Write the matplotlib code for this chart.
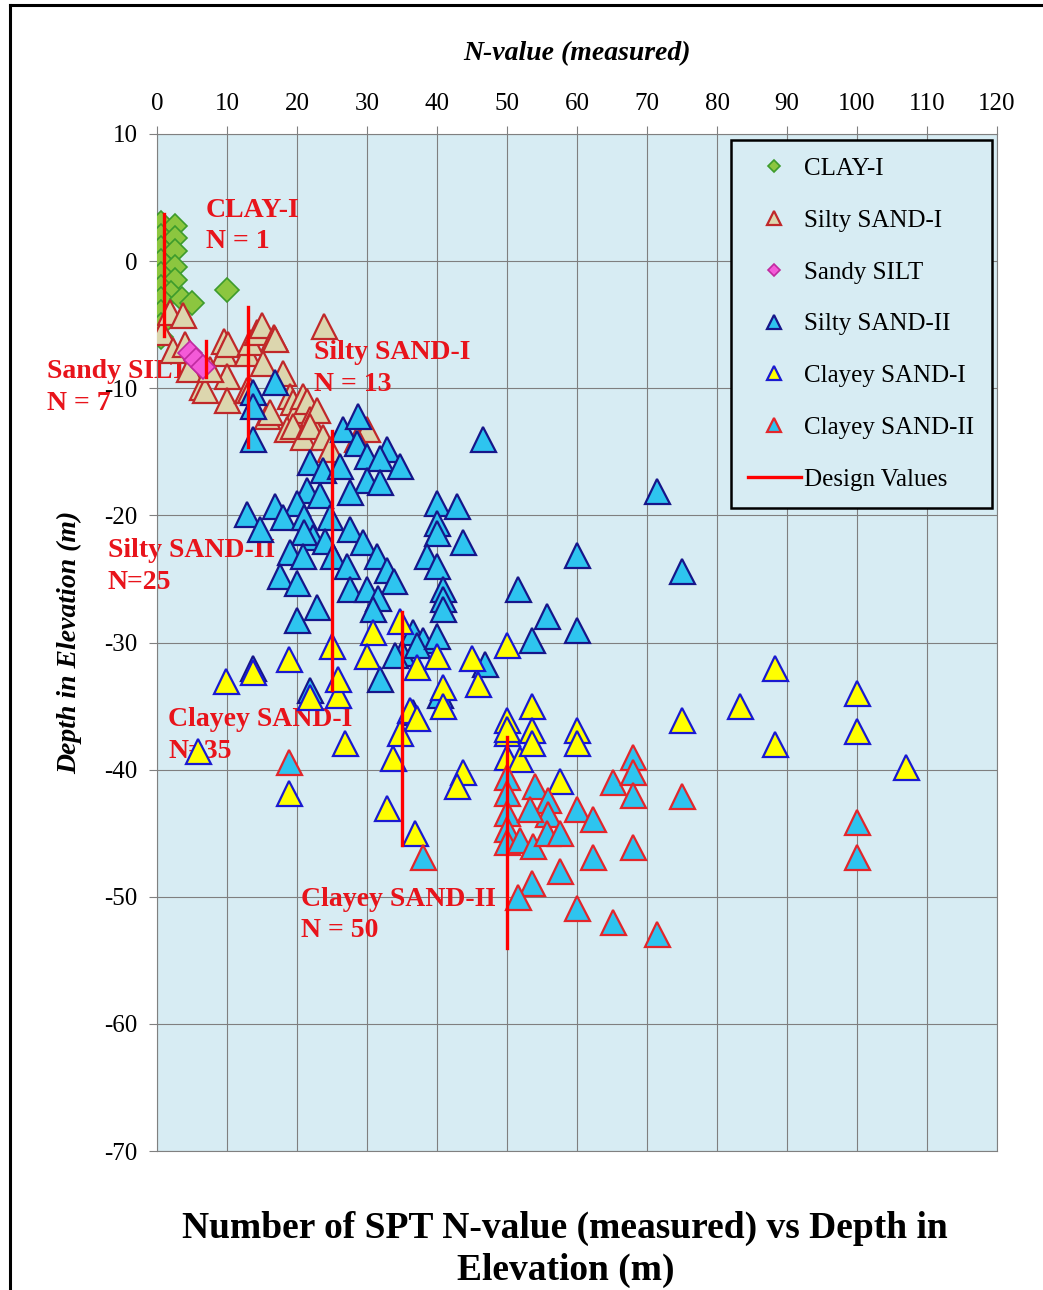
import matplotlib
matplotlib.use("Agg")
import matplotlib.pyplot as plt
from matplotlib.lines import Line2D

plt.rcParams["font.family"] = ["Liberation Serif", "DejaVu Serif"]
plt.rcParams["axes.unicode_minus"] = False

# ── Measured SPT N-values vs elevation (m), by soil layer ───────────────
clay1_n = [0.5, 2.5, 0.5, 2.5, 0.5, 2.5, 0.5, 2.5, 0.5, 2.5, 0.5, 2.0, 0.5, 3.5, 5.0, 10.0, 0.5, 0.5, 0.5]
clay1_e = [3.0, 2.8, 2.0, 1.8, 1.0, 0.8, 0.0, -0.5, -1.0, -1.5, -2.0, -2.5, -3.0, -3.0, -3.3, -2.3, -4.0, -5.0, -6.0]

ssand1_n = [0.7, 1.9, 3.7, 2.3, 4.5, 6.4, 6.9, 9.6, 9.6, 10.0, 10.0, 10.1, 12.9, 13.3, 14.3, 15.0,
            16.7, 16.9, 15.1, 12.9, 13.3, 15.7, 16.1, 18.0, 19.0, 19.4, 20.0, 20.9, 21.4, 21.9,
            22.8, 18.6, 19.4, 20.9, 21.9, 23.7, 24.7, 23.9, 30.0, 28.5, 7.5, 4.0]
ssand1_e = [-5.6, -4.0, -4.2, -7.0, -8.5, -9.9, -10.1, -6.3, -7.2, -9.0, -10.9, -6.5, -7.2, -6.4, -5.6, -5.0,
            -6.0, -6.1, -8.0, -10.1, -10.1, -12.2, -11.9, -8.8, -10.6, -11.1, -11.7, -10.6, -11.0, -12.4,
            -11.7, -13.2, -13.0, -13.8, -13.0, -13.8, -14.8, -5.1, -13.2, -14.0, -8.5, -6.5]

silt_n = [4.7, 5.6, 6.5]
silt_e = [-7.2, -7.8, -8.3]

ssand2_n = [13.7, 13.7, 13.7, 16.9, 26.6, 28.7, 28.6, 30.0, 32.9, 31.9, 34.7, 21.9, 23.7, 26.1, 30.0,
            31.9, 21.4, 23.3, 27.6, 12.9, 14.7, 16.9, 20.0, 18.0, 21.0, 24.7, 27.6, 22.3, 21.0, 24.0,
            29.4, 19.0, 20.9, 25.2, 27.1, 31.4, 32.9, 33.8, 17.6, 20.0, 27.6, 30.0, 31.5, 22.9, 30.9,
            20.0, 40.0, 42.9, 40.0, 40.0, 43.7, 38.6, 40.0, 40.9, 40.9, 40.9, 46.6, 36.6, 38.0, 35.0,
            37.1, 46.9, 40.4, 31.9, 13.7, 21.9, 51.6, 53.6, 55.7, 60.0, 60.0, 71.4, 75.0, 40.0, 34.0,
            36.5]
ssand2_e = [-14.0, -10.3, -11.4, -9.5, -13.2, -12.2, -14.3, -15.3, -14.8, -15.5, -16.1, -15.8, -16.4, -16.1, -17.2,
            -17.4, -18.0, -18.4, -18.2, -19.9, -21.1, -19.3, -19.0, -20.1, -20.1, -20.1, -21.1, -21.7, -21.3, -22.0,
            -22.1, -22.9, -23.2, -23.2, -24.0, -23.2, -24.3, -25.2, -24.8, -25.3, -25.8, -25.8, -26.5, -27.2, -27.4,
            -28.2, -19.0, -19.3, -20.6, -21.4, -22.1, -23.2, -24.0, -25.8, -26.6, -27.4, -14.0, -29.2, -29.8, -30.8,
            -30.2, -31.7, -34.1, -32.9, -32.0, -33.7, -25.8, -29.8, -27.9, -23.1, -29.0, -18.1, -24.4, -29.5, -31.0,
            -35.5]

csand1_n = [5.9, 9.9, 13.7, 18.9, 18.9, 21.9, 25.0, 25.9, 25.9, 26.9, 30.9, 30.0, 34.7, 37.1, 36.1, 37.1,
            34.7, 33.7, 32.9, 36.9, 40.0, 40.9, 40.9, 45.0, 45.9, 43.7, 42.9, 50.0, 50.0, 50.0, 50.0,
            51.9, 53.6, 53.6, 53.6, 60.0, 60.0, 57.6, 75.0, 88.3, 83.3, 88.3, 100.0, 100.0, 107.0, 50.0]
csand1_e = [-38.5, -33.0, -32.3, -31.3, -41.8, -34.3, -30.3, -34.1, -32.9, -37.9, -29.2, -31.1, -28.3, -31.9, -35.3, -35.9,
            -37.1, -39.1, -43.0, -45.0, -31.1, -33.5, -35.0, -31.2, -33.3, -40.2, -41.3, -30.2, -36.1, -37.1, -39.0,
            -39.2, -35.0, -36.9, -37.9, -36.9, -37.9, -40.9, -36.1, -32.0, -35.0, -38.0, -34.0, -37.0, -39.8, -36.8]

csand2_n = [18.9, 38.0, 50.0, 50.0, 50.0, 50.0, 50.0, 54.0, 55.9, 55.9, 53.3, 51.9, 53.7, 55.7, 57.6, 60.0,
            62.3, 65.1, 68.0, 68.0, 68.0, 75.0, 68.0, 62.3, 57.6, 53.6, 51.6, 60.0, 65.1, 71.4, 100.0, 100.0]
csand2_e = [-39.4, -46.9, -40.6, -41.8, -43.4, -44.7, -45.7, -41.3, -42.4, -43.5, -43.1, -45.5, -46.0, -45.0, -45.0, -43.1,
            -43.9, -41.0, -39.0, -40.2, -42.0, -42.1, -46.1, -46.9, -48.0, -48.9, -50.0, -50.9, -52.0, -52.9, -44.1, -46.9]

# design N-value per layer and the elevation range it covers
layers   = ["CLAY-I", "Sandy SILT", "Silty SAND-I", "Silty SAND-II", "Clayey SAND-I", "Clayey SAND-II"]
design_n = [1, 7, 13, 25, 35, 50]
design_top = [3.7, -6.3, -3.6, -13.4, -27.6, -37.4]
design_bot = [-5.9, -9.1, -14.6, -33.7, -45.9, -54.0]

x_ticks = list(range(0, 121, 10))
y_ticks = list(range(-70, 11, 10))

# ── Figure ──────────────────────────────────────────────────────────────
fig = plt.figure(figsize=(10.43, 12.9), dpi=100, facecolor="white")
ax = fig.add_axes([157 / 1043, 1 - 1151 / 1290, 840 / 1043, 1017 / 1290])
ax.set_facecolor("#d7ecf3")

ax.set_xlim(0, 120)
ax.set_ylim(-70, 10)
ax.set_xticks(x_ticks)
ax.set_yticks(y_ticks)
ax.xaxis.tick_top()
ax.xaxis.set_label_position("top")
ax.tick_params(axis="both", direction="out", length=6, color="#808080", labelsize=18, pad=8)
ax.grid(True, color="#7f7f7f", linewidth=0.8)
ax.set_axisbelow(True)
for sp in ax.spines.values():
    sp.set_color("#808080")
    sp.set_linewidth(0.8)

ax.set_xlabel("N-value (measured)", fontsize=20, fontweight="bold", fontstyle="italic", labelpad=23)
ax.set_ylabel("Depth in Elevation (m)", fontsize=20, fontweight="bold", fontstyle="italic", labelpad=16)

ms_tri = 18
ax.plot(clay1_n, clay1_e, "D", ms=12, mfc="#8cc63f", mec="#3d9b2c", mew=1.2, ls="none",
        label="CLAY-I", zorder=3)
ax.plot(ssand1_n, ssand1_e, "^", ms=ms_tri, mfc="#dcd6ae", mec="#c0282a", mew=1.6, ls="none",
        label="Silty SAND-I", zorder=3)
ax.plot(silt_n, silt_e, "D", ms=12, mfc="#f45ad8", mec="#c02aa0", mew=1.2, ls="none",
        label="Sandy SILT", zorder=3)
ax.plot(ssand2_n, ssand2_e, "^", ms=ms_tri, mfc="#2ec4ef", mec="#16168a", mew=1.6, ls="none",
        label="Silty SAND-II", zorder=3)
ax.plot(csand1_n, csand1_e, "^", ms=ms_tri, mfc="#ffff00", mec="#1a1ad0", mew=1.6, ls="none",
        label="Clayey SAND-I", zorder=3)
ax.plot(csand2_n, csand2_e, "^", ms=ms_tri, mfc="#2ec4ef", mec="#e3262b", mew=1.6, ls="none",
        label="Clayey SAND-II", zorder=3)

# design value lines
for i, (n, top, bot) in enumerate(zip(design_n, design_top, design_bot)):
    ax.plot([n, n], [top, bot], color="#ff0000", lw=2.4, zorder=4,
            label="Design Values" if i == 0 else None)

# layer annotations (top-left corner of each block, data coords)
label_pos = [(7.0, 5.0), (-15.7, -7.7), (22.4, -6.2), (-7.0, -21.8), (1.6, -35.1), (20.6, -49.2)]
label_fmt = ["{}\nN = {}", "{}\nN = {}", "{}\nN = {}", "{}\nN={}", "{}\nN={}", "{}\nN = {}"]
for name, n, (lx, ly), fmt in zip(layers, design_n, label_pos, label_fmt):
    ax.text(lx, ly, fmt.format(name, n), color="#e8141b", fontsize=20, fontweight="bold",
            ha="left", va="top", linespacing=1.35, clip_on=False, zorder=2)

leg = ax.legend(loc="upper right", bbox_to_anchor=(0.994, 0.994), fontsize=18, numpoints=1,
                markerscale=0.55, frameon=True, fancybox=False, facecolor="#d7ecf3",
                edgecolor="black", framealpha=1, labelspacing=1.17, handlelength=2.1,
                handletextpad=0.15, borderpad=0.7, borderaxespad=0)
leg.get_frame().set_linewidth(1.8)

fig.text(0.542, 1 - 1228 / 1290, "Number of SPT N-value (measured) vs Depth in",
         ha="center", va="center", fontsize=27, fontweight="bold")
fig.text(0.542, 1 - 1270 / 1290, "Elevation (m)",
         ha="center", va="center", fontsize=27, fontweight="bold")

# outer frame
fig.add_artist(Line2D([10 / 1043, 10 / 1043], [0, 1 - 5 / 1290], color="black", lw=2.2))
fig.add_artist(Line2D([10 / 1043, 1], [1 - 5 / 1290, 1 - 5 / 1290], color="black", lw=2.2))

fig.savefig("out.png", dpi=100, facecolor="white")
